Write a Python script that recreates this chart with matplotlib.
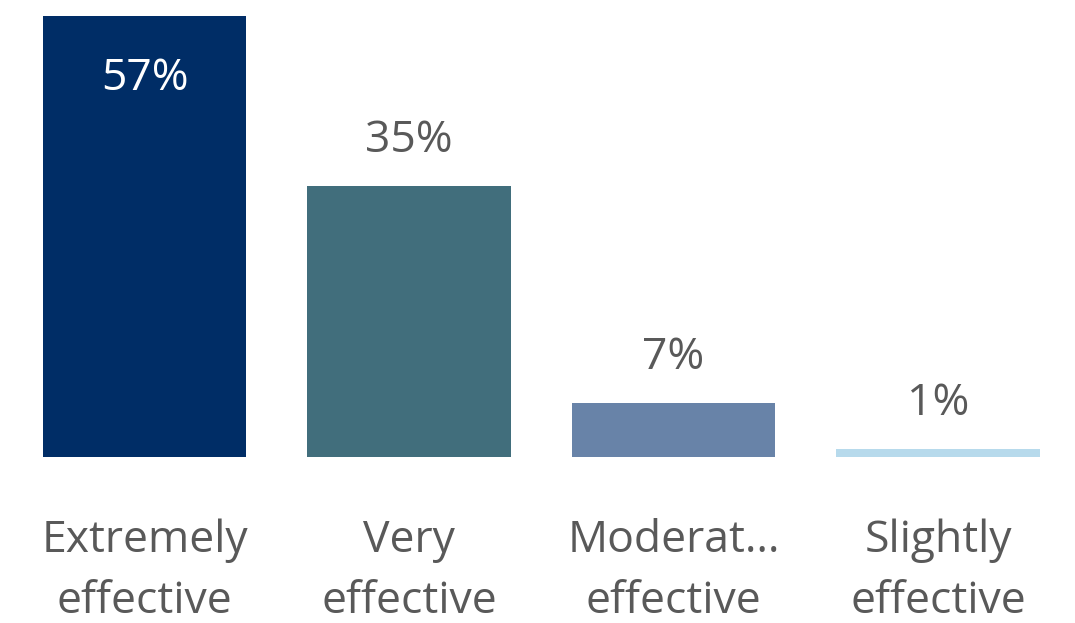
import matplotlib
matplotlib.use("Agg")
import matplotlib.pyplot as plt

categories = ["Extremely\neffective", "Very\neffective", "Moderat\u2026\neffective", "Slightly\neffective"]
values = [57, 35, 7, 1]
colors = ["#002D66", "#416E7C", "#6883A8", "#B7DAEC"]
label_colors = ["#FFFFFF", "#595959", "#595959", "#595959"]

plt.rcParams["font.family"] = ["Open Sans", "DejaVu Sans"]

fig = plt.figure(figsize=(10.75, 6.23), dpi=100)
# axes spans bar baseline (y=457px) to top of tallest bar (y=16px)
ax = fig.add_axes([0, (623 - 457) / 623, 1, (457 - 16) / 623])

x = list(range(len(categories)))
ax.bar(x, values, width=0.768, color=colors)
ax.set_xlim(-144.5 / 264.5, (1075 - 144.5) / 264.5)
ax.set_ylim(0, 57)
ax.axis("off")

for xi, v, lc in zip(x, values, label_colors):
    if lc == "#FFFFFF":
        ax.text(xi, v - 5.2, f"{v}%", ha="center", va="top", color=lc, fontsize=32)
    else:
        ax.text(xi, v + 3.0, f"{v}%", ha="center", va="bottom", color=lc, fontsize=32)

for xi, cat in zip(x, categories):
    ax.text(xi, -7.9, cat, ha="center", va="top", color="#595959", fontsize=32,
            linespacing=1.5)

fig.savefig("out.png", dpi=100)
